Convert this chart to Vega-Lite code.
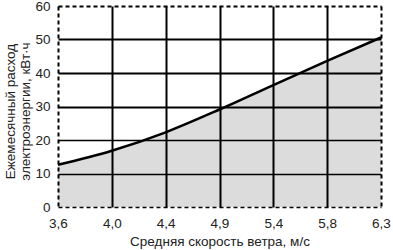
{
  "$schema": "https://vega.github.io/schema/vega-lite/v6.json",
  "width": 323,
  "height": 201,
  "autosize": {"type": "none"},
  "padding": {"left": 58, "top": 6, "right": 12, "bottom": 43},
  "background": "white",
  "config": {
    "view": {"stroke": null},
    "font": "Liberation Sans",
    "axis": {
      "labelFont": "Liberation Sans",
      "titleFont": "Liberation Sans",
      "labelFontSize": 13.5,
      "titleFontSize": 13.5,
      "labelColor": "#222",
      "titleColor": "#222",
      "titleFontWeight": "normal",
      "domain": false,
      "ticks": false,
      "gridColor": "black",
      "gridOpacity": 1
    }
  },
  "data": {
    "values": [
      {"speed": "3,6", "kwh": 12.6},
      {"speed": "4,0", "kwh": 16.8},
      {"speed": "4,4", "kwh": 22.3},
      {"speed": "4,9", "kwh": 29.1},
      {"speed": "5,4", "kwh": 36.4},
      {"speed": "5,8", "kwh": 43.6},
      {"speed": "6,3", "kwh": 50.6}
    ]
  },
  "encoding": {
    "x": {
      "field": "speed",
      "type": "ordinal",
      "sort": null,
      "scale": {"type": "point", "padding": 0},
      "axis": {
        "title": "Средняя скорость ветра, м/с",
        "zindex": 1,
        "labelAngle": 0,
        "labelPadding": 9,
        "titleY": 27,
        "titleBaseline": "top",
        "grid": true,
        "gridWidth": 2,
        "gridDash": {"condition": {"test": "datum.value == '3,6' || datum.value == '6,3'", "value": [4, 3]}, "value": []}
      }
    },
    "y": {
      "field": "kwh",
      "type": "quantitative",
      "scale": {"domain": [0, 60], "nice": false},
      "axis": {
        "title": ["Ежемесячный расход", "электроэнергии, кВт·ч"],
        "zindex": 1,
        "values": [0, 10, 20, 30, 40, 50, 60],
        "labelPadding": 8,
        "titleX": -48,
        "titleY": 105,
        "titleAngle": -90,
        "titleAlign": "center",
        "titleBaseline": "middle",
        "titleLineHeight": 15,
        "grid": true,
        "gridWidth": {"condition": {"test": "datum.value <= 20", "value": 1.3}, "value": 2},
        "gridDash": {"condition": {"test": "datum.value == 0 || datum.value == 60", "value": [4, 3]}, "value": []}
      }
    }
  },
  "layer": [
    {"mark": {"type": "area", "interpolate": "monotone", "color": "#dcdcdc"}},
    {"mark": {"type": "line", "interpolate": "monotone", "color": "black", "strokeWidth": 2.5}}
  ]
}
